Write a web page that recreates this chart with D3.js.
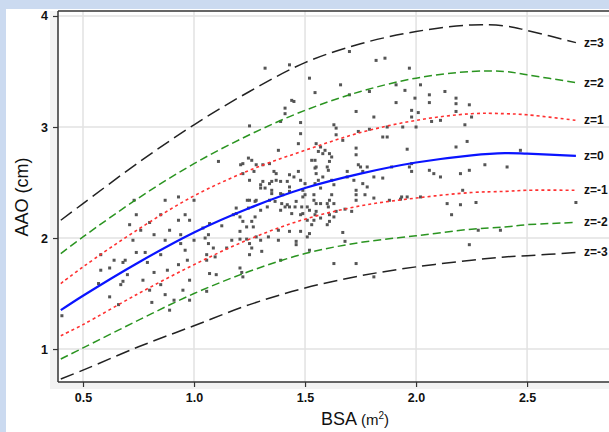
<!DOCTYPE html>
<html>
<head>
<meta charset="utf-8">
<script src="https://cdn.jsdelivr.net/npm/d3@7"></script>
<style>
body { margin: 0; background: #cbdaf0; }
svg { display: block; }
text { font-family: "Liberation Sans", Arial, sans-serif; fill: #111; }
</style>
</head>
<body>
<div id="chart"></div>
<script>
// z-score reference curves at these BSA values
var bsaKnots = [0.4, 0.5, 0.75, 1.0, 1.25, 1.5, 1.75, 2.0, 2.25, 2.4, 2.5, 2.72];
var zp3 = [2.16, 2.31, 2.68, 3.02, 3.32, 3.58, 3.75, 3.86, 3.92, 3.91, 3.87, 3.76];
var zp2 = [1.86, 2.01, 2.36, 2.67, 2.93, 3.15, 3.32, 3.44, 3.50, 3.50, 3.47, 3.40];
var zp1 = [1.59, 1.74, 2.08, 2.38, 2.61, 2.79, 2.95, 3.06, 3.12, 3.12, 3.11, 3.06];
var z0  = [1.35, 1.48, 1.78, 2.05, 2.27, 2.45, 2.58, 2.68, 2.745, 2.765, 2.76, 2.74];
var zm1 = [1.12, 1.22, 1.50, 1.76, 1.99, 2.17, 2.29, 2.36, 2.41, 2.42, 2.43, 2.43];
var zm2 = [0.91, 1.01, 1.26, 1.50, 1.70, 1.86, 1.96, 2.02, 2.08, 2.10, 2.12, 2.14];
var zm3 = [0.73, 0.81, 1.02, 1.21, 1.40, 1.55, 1.66, 1.74, 1.80, 1.83, 1.84, 1.87];

var xTicks = [0.5, 1.0, 1.5, 2.0, 2.5];
var yTicks = [1, 2, 3, 4];

// patients: [BSA, AAO]
var points = [
[1.45,3.23],[1.41,3.17],[1.41,3.12],[1.39,3.05],[1.25,3.01],[1.48,3.04],[1.48,2.94],[1.47,2.85],
[1.63,3.02],[1.64,2.99],[1.64,2.93],[1.55,2.85],[1.56,2.78],[1.57,2.82],[1.58,2.76],[1.61,2.76],
[1.62,2.73],[1.61,2.69],[1.59,2.79],[1.67,2.88],[1.73,3.14],[1.81,3.09],[1.91,3.22],[2.06,3.22],
[1.98,3.15],[1.98,3.09],[2.01,3.13],[1.94,3.00],[1.87,3.00],[1.85,2.91],[1.87,2.91],[1.74,2.96],
[1.79,2.98],[1.73,2.81],[1.73,2.75],[1.74,2.66],[1.75,2.64],[1.76,2.60],[1.78,2.64],[1.81,2.55],
[1.85,2.54],[1.89,2.64],[1.96,2.80],[1.98,2.67],[1.98,2.60],[2.06,2.61],[2.08,2.58],[2.11,2.55],
[2.07,3.05],[2.11,3.06],[2.14,2.31],[1.96,2.37],[1.93,2.35],[1.88,2.34],[1.81,2.36],[1.78,2.46],
[1.77,2.39],[1.76,2.49],[1.73,2.43],[1.73,2.39],[1.69,2.60],[1.69,2.55],[1.72,2.52],[1.68,2.26],
[1.73,2.34],[1.71,2.24],[1.64,2.24],[1.63,2.19],[1.61,2.15],[1.60,2.12],[1.61,2.21],[1.57,2.18],
[1.55,2.24],[1.52,2.25],[1.54,2.16],[1.53,2.12],[1.51,2.16],[1.49,2.22],[1.51,2.28],[1.50,2.39],
[1.49,2.43],[1.50,2.49],[1.48,2.52],[1.47,2.60],[1.45,2.55],[1.43,2.57],[1.42,2.51],[1.39,2.51],
[1.37,2.52],[1.37,2.58],[1.36,2.60],[1.34,2.67],[1.31,2.66],[1.28,2.66],[1.27,2.60],[1.22,2.67],
[1.21,2.66],[1.22,2.58],[1.25,2.52],[1.26,2.70],[1.245,2.72],[1.38,2.79],[1.11,2.69],[1.31,2.51],
[1.30,2.48],[1.30,2.45],[1.32,2.45],[1.35,2.40],[1.34,2.49],[1.35,2.43],[1.35,2.51],[1.39,2.40],
[1.40,2.39],[1.43,2.46],[1.43,2.42],[1.42,2.30],[1.43,2.28],[1.44,2.22],[1.46,2.33],[1.455,2.28],
[1.48,2.21],[1.49,2.37],[1.54,2.34],[1.55,2.31],[1.57,2.31],[1.54,2.39],[1.545,2.49],[1.56,2.52],
[1.57,2.45],[1.55,2.58],[1.545,2.63],[1.55,2.64],[1.53,2.70],[1.545,2.70],[1.58,2.55],[1.60,2.64],
[1.605,2.61],[1.62,2.52],[1.63,2.48],[1.62,2.39],[1.61,2.34],[1.60,2.31],[1.605,2.28],[1.63,2.31],
[1.545,2.21],[1.485,2.28],[1.41,2.28],[1.395,2.31],[1.39,2.25],[1.365,2.33],[1.34,2.34],[1.33,2.28],
[1.30,2.25],[1.28,2.34],[1.275,2.33],[1.25,2.34],[1.24,2.34],[1.245,2.27],[1.19,2.27],[1.19,2.22],
[1.177,2.21],[1.125,2.11],[1.207,2.19],[1.22,2.15],[1.237,2.10],[1.267,2.10],[1.275,2.19],[1.26,2.15],
[1.207,2.06],[1.207,1.99],[1.237,1.99],[1.25,1.95],[1.26,1.91],[1.28,2.01],[1.30,1.98],[1.305,1.88],
[1.25,1.85],[1.147,1.91],[1.17,1.98],[1.087,1.91],[1.095,1.83],[1.05,2.00],[1.065,1.95],[1.065,2.03],
[1.07,2.13],[1.04,2.09],[1.057,1.85],[1.057,1.80],[1.07,1.68],[1.10,1.67],[1.207,1.73],[1.215,1.69],
[1.22,1.65],[1.057,1.52],[1.38,1.98],[1.39,1.80],[1.335,2.01],[1.38,2.07],[1.43,2.06],[1.48,2.06],
[1.52,2.04],[1.46,1.97],[1.46,1.94],[1.51,2.01],[1.52,1.89],[1.63,1.77],[1.73,1.77],[1.81,1.65],
[1.67,2.05],[1.68,1.97],[1.935,2.37],[1.97,2.64],[2.02,2.37],[2.00,3.00],
[0.405,1.30],[0.57,1.59],[0.62,1.47],[0.68,1.61],[0.81,1.42],[0.67,1.58],[0.62,1.73],[0.68,1.78],
[0.74,1.87],[0.725,1.98],[0.78,1.87],[0.66,1.40],[0.79,1.78],[0.82,1.69],[0.85,1.85],[0.87,1.98],
[0.88,1.71],[0.93,1.76],[0.94,1.95],[0.96,1.89],[0.97,1.80],[0.98,1.62],[0.95,1.53],[0.91,1.44],
[0.89,1.35],[0.87,1.49],[0.89,2.07],[0.93,2.16],[0.96,2.21],[0.98,2.16],[0.82,2.03],[0.76,2.07],
[0.71,2.12],[0.69,1.80],[0.64,1.80],[0.58,1.71],[0.70,1.67],[0.77,1.62],[0.85,1.58],[0.94,2.03],
[1.00,1.98],[0.80,1.53],[0.73,2.34],[0.93,2.37],[1.00,2.34],[0.98,1.44],[0.58,1.85],[0.74,2.21],
[0.85,2.21],[0.87,2.34],[0.80,2.14],
[1.32,3.53],[1.44,3.24],[1.52,3.44],[1.70,3.68],[1.82,3.60],[1.86,3.62],[1.97,3.53],[1.91,3.38],
[1.95,3.33],[2.02,3.38],[2.06,3.29],[2.13,3.32],[1.995,3.26],[1.43,3.56],[1.66,3.38],[1.545,3.31],
[1.70,3.29],[1.79,3.32],[2.18,3.26],
[2.18,3.21],[2.24,3.20],[2.25,3.09],[2.23,2.87],[2.18,2.82],[2.20,2.58],[2.41,2.64],[2.27,2.32],
[2.72,2.32],[2.24,2.61],[2.31,2.66],[2.21,2.43],[2.20,2.30],[2.16,2.21],[2.24,1.94],[2.28,2.07],
[2.38,2.07],[2.47,2.79],[2.18,3.14],[2.22,3.02]
];

(function() {
var W = 609, H = 432;
var mLeft = 58, mRight = 609, mTop = 11, mBottom = 382;

var x = d3.scaleLinear().domain([0.3874, 2.869]).range([mLeft, mRight]);
var y = d3.scaleLinear().domain([0.703, 4.045]).range([mBottom, mTop]);

var svg = d3.select("#chart").append("svg").attr("width", W).attr("height", H);

// white page area with a faint grey panel behind the plot
svg.append("rect").attr("x", 6).attr("y", 9).attr("width", W - 6).attr("height", H - 9).attr("fill", "#fff");
svg.append("rect").attr("x", 50).attr("y", mTop).attr("width", mRight - 50).attr("height", 389 - mTop).attr("fill", "#f3f3f3");
svg.append("rect").attr("x", mLeft).attr("y", mTop).attr("width", mRight - mLeft).attr("height", mBottom - mTop).attr("fill", "#fff");

// grid
svg.append("g").selectAll("line").data(xTicks).join("line")
    .attr("x1", d => x(d)).attr("x2", d => x(d)).attr("y1", mTop).attr("y2", mBottom)
    .attr("stroke", "#e2e2e2").attr("stroke-width", 1.5);
svg.append("g").selectAll("line").data(yTicks).join("line")
    .attr("x1", mLeft).attr("x2", mRight).attr("y1", d => y(d)).attr("y2", d => y(d))
    .attr("stroke", "#e2e2e2").attr("stroke-width", 1.5);

var curves = [
  {label: "z=3",  vals: zp3, color: "#222", dash: "14,6", width: 1.5},
  {label: "z=2",  vals: zp2, color: "#2a9420", dash: "8,4", width: 1.5},
  {label: "z=1",  vals: zp1, color: "#ff3030", dash: "3,3", width: 1.6},
  {label: "z=0",  vals: z0,  color: "#0a14ff", dash: null, width: 2.2},
  {label: "z=-1", vals: zm1, color: "#ff3030", dash: "3,3", width: 1.6},
  {label: "z=-2", vals: zm2, color: "#2a9420", dash: "8,4", width: 1.5},
  {label: "z=-3", vals: zm3, color: "#222", dash: "14,6", width: 1.5}
];

var line = d3.line()
    .x(d => x(d[0])).y(d => y(d[1]))
    .curve(d3.curveCatmullRom.alpha(0.5));

// points
svg.append("g").selectAll("rect").data(points).join("rect")
    .attr("x", d => x(d[0]) - 1.5).attr("y", d => y(d[1]) - 1.5)
    .attr("width", 3).attr("height", 3).attr("fill", "#555");

curves.forEach(function(c) {
  var pts = bsaKnots.map((b, i) => [b, c.vals[i]]);
  svg.append("path").datum(pts)
      .attr("d", line)
      .attr("fill", "none")
      .attr("stroke", c.color)
      .attr("stroke-width", c.width)
      .attr("stroke-dasharray", c.dash);
  var last = pts[pts.length - 1];
  svg.append("text")
      .attr("x", x(last[0]) + 8).attr("y", y(last[1]) + 4)
      .attr("font-size", 12).attr("font-weight", "bold")
      .text(c.label);
});

// axes
var xAxis = svg.append("g").attr("transform", "translate(0," + mBottom + ")")
    .call(d3.axisBottom(x).tickValues(xTicks).tickFormat(d3.format(".1f")).tickSize(5).tickPadding(6));
var yAxis = svg.append("g").attr("transform", "translate(" + mLeft + ",0)")
    .call(d3.axisLeft(y).tickValues(yTicks).tickFormat(d3.format("d")).tickSize(5).tickPadding(5));
[xAxis, yAxis].forEach(function(a) {
  a.select(".domain").attr("stroke", "#333").attr("stroke-width", 1.5);
  a.selectAll(".tick line").attr("stroke", "#333").attr("stroke-width", 1.2);
  a.selectAll(".tick text").attr("font-size", 12.5).attr("font-weight", "bold")
      .style("font-family", "'Liberation Sans', Arial, sans-serif").attr("fill", "#111");
});
yAxis.select(".domain").attr("d", "M0," + mTop + "V" + mBottom);
xAxis.select(".domain").attr("d", "M" + mLeft + ",0H" + mRight);
svg.append("line").attr("x1", mLeft).attr("x2", mRight).attr("y1", mTop).attr("y2", mTop)
    .attr("stroke", "#333").attr("stroke-width", 1.5);

// titles
var xt = svg.append("text").attr("x", 355).attr("y", 425).attr("text-anchor", "middle").attr("font-size", 18);
xt.append("tspan").text("BSA ");
xt.append("tspan").attr("font-size", 15).text("(m");
xt.append("tspan").attr("font-size", 10).attr("dy", -6).text("2");
xt.append("tspan").attr("font-size", 15).attr("dy", 6).text(")");

svg.append("text")
    .attr("transform", "translate(28,197) rotate(-90)")
    .attr("text-anchor", "middle").attr("font-size", 18)
    .text("AAO (cm)");
})();
</script>
</body>
</html>
